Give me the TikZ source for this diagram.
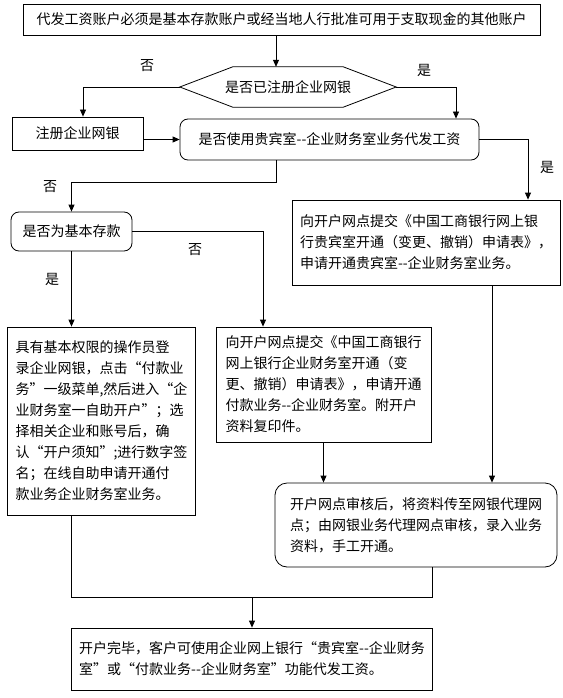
\documentclass[tikz,border=0pt]{standalone}
\usepackage{fontspec}
\newfontfamily\cjk{Noto Sans CJK SC}
\usetikzlibrary{arrows.meta,calc}
\newcommand\twodash{-\kern0pt-}

\begin{document}
\begin{tikzpicture}[x=1pt,y=-1pt,
    box/.style={draw,line width=0.8pt,inner xsep=8pt,inner ysep=0pt,align=left,font=\cjk\fontsize{14pt}{21pt}\selectfont},
    rbox/.style={box,rounded corners=8pt},
    lbl/.style={inner sep=0pt,font=\cjk\fontsize{14pt}{16pt}\selectfont},
    flow/.style={line width=0.8pt,-{Triangle[length=7pt,width=6pt]}},
    link/.style={line width=0.8pt}]

\useasboundingbox (0,0) rectangle (562,698);

\node[box,minimum width=517pt,minimum height=31pt] (acct) at (281.5,19.5) {代发工资账户必须是基本存款账户或经当地人行批准可用于支取现金的其他账户};
\node[lbl,minimum width=216pt,minimum height=40pt] (reg) at (288,87) {是否已注册企业网银};
\draw[link] (reg.west) -- ($(reg.north west)+(53,0)$) -- ($(reg.north east)+(-53,0)$) -- (reg.east) -- ($(reg.south east)+(-53,0)$) -- ($(reg.south west)+(53,0)$) -- cycle;
\node[box,minimum width=131pt,minimum height=33pt] (open) at (77.5,133.5) {注册企业网银};
\node[rbox,minimum width=299pt,minimum height=41pt] (vip) at (329.5,139.5) {是否使用贵宾室\twodash 企业财务室业务代发工资};
\node[rbox,minimum width=121pt,minimum height=39pt] (basic) at (71.5,231.5) {是否为基本存款};
\node[box,minimum width=252pt,minimum height=85pt] (vipform) at (426,242.5) {向开户网点提交《中国工商银行网上银\\行贵宾室开通（变更、撤销）申请表》，\\申请开通贵宾室\twodash 企业财务室业务。};
\node[box,minimum width=179pt,minimum height=188pt] (self) at (101.5,421) {具有基本权限的操作员登\\录企业网银，点击“付款业\\务”一级菜单,然后进入“企\\业财务室一自助开户”；选\\择相关企业和账号后，确\\认“开户须知”;进行数字签\\名；在线自助申请开通付\\款业务企业财务室业务。};
\node[box,minimum width=215pt,minimum height=115pt] (cmf) at (323.5,384.5) {向开户网点提交《中国工商银行\\网上银行企业财务室开通（变\\更、撤销）申请表》，申请开通\\付款业务\twodash 企业财务室。附开户\\资料复印件。};
\node[box,rounded corners=12pt,minimum width=282pt,minimum height=84pt] (agent) at (416,525) {开户网点审核后，将资料传至网银代理网\\点；由网银业务代理网点审核，录入业务\\资料，手工开通。};
\node[box,minimum width=360pt,minimum height=62pt] (done) at (252,659) {开户完毕，客户可使用企业网上银行“贵宾室\twodash 企业财务\\室”或“付款业务\twodash 企业财务室”功能代发工资。};
\coordinate (merge) at (252,597);

\node[lbl] (noreg) at (147,66) {否};
\node[lbl] (yesreg) at (424,70) {是};
\node[lbl] (yesvip) at (547,167) {是};
\node[lbl] (novip) at (50,187) {否};
\node[lbl] (nobasic) at (195,250) {否};
\node[lbl] (yesbasic) at (52,279) {是};

\draw[flow] ([xshift=-5.5pt]acct.south) -- ([xshift=-5.5pt]acct.south |- reg.north);
\draw[flow] (reg.west) -| ([xshift=5.5pt]open.north);
\draw[flow] (reg.east) -| ([xshift=126.5pt]vip.north);
\draw[flow] (open.east |- vip.west) -- (vip.west);
\draw[flow] (vip.east) -| ([xshift=102pt]vipform.north);
\draw[flow] ([xshift=-53.5pt]vip.south) -- ++(0,22) -| (basic.north);
\draw[flow] (basic.east) -| ([xshift=-60.5pt]cmf.north);
\draw[flow] (basic.south) -- (basic.south |- self.north);
\draw[flow] (cmf.south) -- (cmf.south |- agent.north);
\draw[flow] ([xshift=66pt]vipform.south) -- ([xshift=66pt]vipform.south |- agent.north);
\draw[link] (basic.south |- self.south) -- (basic.south |- merge) -| ([xshift=16pt]agent.south);
\draw[flow] (merge) -- (done.north);

\end{tikzpicture}
\end{document}
